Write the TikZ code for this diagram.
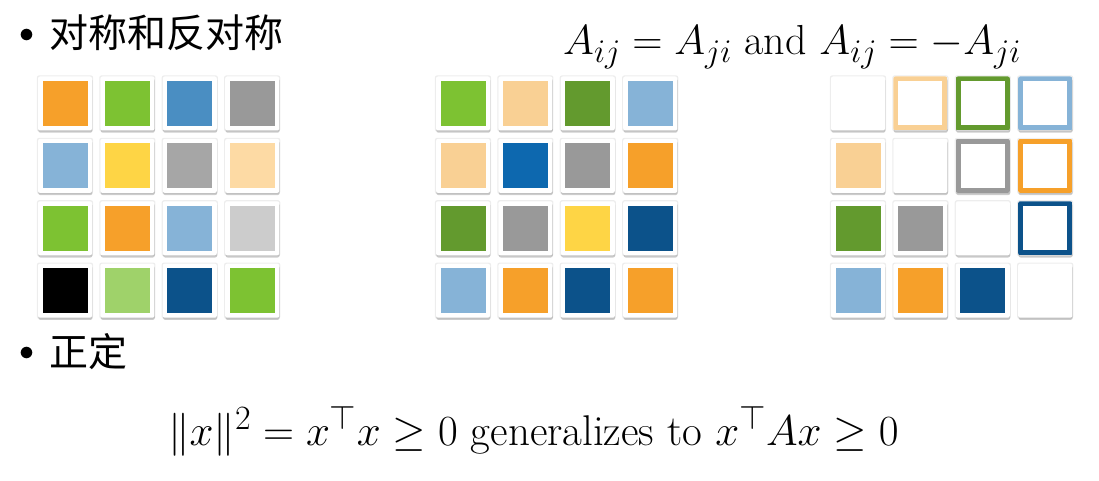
\RequirePackage{fix-cm}
\documentclass[tikz,border=0pt]{standalone}
\usepackage{fontspec}
\newfontfamily\cjk{Noto Sans CJK SC}
\usetikzlibrary{positioning,shadows}
\DeclareMathSizes{42}{42}{33}{25}
\DeclareMathSizes{43}{43}{34}{26}
\definecolor{cOrange}{HTML}{F6A02A}
\definecolor{cGreen}{HTML}{7DC232}
\definecolor{cBlue}{HTML}{4A8EC2}
\definecolor{cGray}{HTML}{999999}
\definecolor{cSky}{HTML}{86B3D7}
\definecolor{cYellow}{HTML}{FED545}
\definecolor{cGrayB}{HTML}{A6A6A6}
\definecolor{cCream}{HTML}{FDDAA4}
\definecolor{cSilver}{HTML}{CCCCCC}
\definecolor{cLime}{HTML}{9FD26A}
\definecolor{cNavy}{HTML}{0C528A}
\definecolor{cPeach}{HTML}{F9D094}
\definecolor{cOlive}{HTML}{639A2E}
\definecolor{cCobalt}{HTML}{0D68AF}
\tikzset{Tile/.style={rectangle, rounded corners=2pt, minimum size=54pt, inner sep=0pt, fill=white,
    general shadow={fill=black, opacity=0.07, shadow scale=1.04},
    drop shadow={shadow xshift=0.4pt, shadow yshift=-2.2pt, opacity=0.4}}}
\tikzset{FullTile/.style={Tile, path picture={\fill[#1, sharp corners] ([shift={(4.5pt,4.5pt)}]path picture bounding box.south west) rectangle ([shift={(-4.5pt,-4.5pt)}]path picture bounding box.north east);}}}
\tikzset{RingTile/.style={Tile, path picture={\draw[#1, line width=5pt, sharp corners] ([shift={(2.5pt,2.5pt)}]path picture bounding box.south west) rectangle ([shift={(-2.5pt,-2.5pt)}]path picture bounding box.north east);}}}
\tikzset{Bullet/.style={anchor=base west, inner sep=0pt, font=\fontsize{39}{40}\selectfont}}
\newcommand{\dotmark}{\raisebox{5.5pt}{\fontsize{30}{30}\selectfont$\bullet$}\hspace{15pt}}

\begin{document}
\begin{tikzpicture}[x=1pt, y=1pt, node distance=8pt]
      \useasboundingbox (0,0) rectangle (1099,480);
      \node[Bullet] (sym) at (19,432) {\dotmark{\cjk 对称和反对称}};
      \node[Bullet] (pd) at (19,114) {\dotmark{\cjk 正定}};
      \node[anchor=base west, inner sep=0pt, font=\fontsize{42}{44}\selectfont] (eqA) at (563,425) {$A_{ij}=A_{ji}$ and $A_{ij}=-A_{ji}$};
      \node[anchor=base west, inner sep=0pt, font=\fontsize{43}{46}\selectfont] (eqB) at (168,35) {$\|x\|^2=x^\top x\geq 0$ generalizes to $x^\top Ax\geq 0$};
      % symmetric-looking grid
      \node[FullTile=cOrange] (a11) at (65,376.5) {};
      \node[FullTile=cGreen] (a12) [right=of a11] {}; \node[FullTile=cBlue] (a13) [right=of a12] {}; \node[FullTile=cGray] (a14) [right=of a13] {};
      \node[FullTile=cSky] (a21) [below=of a11] {};
      \node[FullTile=cYellow] (a22) [right=of a21] {}; \node[FullTile=cGrayB] (a23) [right=of a22] {}; \node[FullTile=cCream] (a24) [right=of a23] {};
      \node[FullTile=cGreen] (a31) [below=of a21] {};
      \node[FullTile=cOrange] (a32) [right=of a31] {}; \node[FullTile=cSky] (a33) [right=of a32] {}; \node[FullTile=cSilver] (a34) [right=of a33] {};
      \node[FullTile=black] (a41) [below=of a31] {};
      \node[FullTile=cLime] (a42) [right=of a41] {}; \node[FullTile=cNavy] (a43) [right=of a42] {}; \node[FullTile=cGreen] (a44) [right=of a43] {};
      % symmetric grid
      \node[FullTile=cGreen] (b11) at (463,376.5) {};
      \node[FullTile=cPeach] (b12) [right=of b11] {}; \node[FullTile=cOlive] (b13) [right=of b12] {}; \node[FullTile=cSky] (b14) [right=of b13] {};
      \node[FullTile=cPeach] (b21) [below=of b11] {};
      \node[FullTile=cCobalt] (b22) [right=of b21] {}; \node[FullTile=cGray] (b23) [right=of b22] {}; \node[FullTile=cOrange] (b24) [right=of b23] {};
      \node[FullTile=cOlive] (b31) [below=of b21] {};
      \node[FullTile=cGray] (b32) [right=of b31] {}; \node[FullTile=cYellow] (b33) [right=of b32] {}; \node[FullTile=cNavy] (b34) [right=of b33] {};
      \node[FullTile=cSky] (b41) [below=of b31] {};
      \node[FullTile=cOrange] (b42) [right=of b41] {}; \node[FullTile=cNavy] (b43) [right=of b42] {}; \node[FullTile=cOrange] (b44) [right=of b43] {};
      % antisymmetric grid
      \node[Tile] (c11) at (858,376.5) {};
      \node[RingTile=cPeach] (c12) [right=of c11] {}; \node[RingTile=cOlive] (c13) [right=of c12] {}; \node[RingTile=cSky] (c14) [right=of c13] {};
      \node[FullTile=cPeach] (c21) [below=of c11] {};
      \node[Tile] (c22) [right=of c21] {}; \node[RingTile=cGray] (c23) [right=of c22] {}; \node[RingTile=cOrange] (c24) [right=of c23] {};
      \node[FullTile=cOlive] (c31) [below=of c21] {};
      \node[FullTile=cGray] (c32) [right=of c31] {}; \node[Tile] (c33) [right=of c32] {}; \node[RingTile=cNavy] (c34) [right=of c33] {};
      \node[FullTile=cSky] (c41) [below=of c31] {};
      \node[FullTile=cOrange] (c42) [right=of c41] {}; \node[FullTile=cNavy] (c43) [right=of c42] {}; \node[Tile] (c44) [right=of c43] {};
    \end{tikzpicture}
\end{document}
